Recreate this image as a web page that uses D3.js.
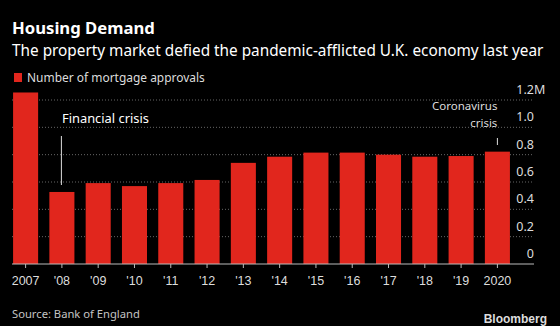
<!DOCTYPE html>
<html>
<head>
<meta charset="utf-8">
<script src="https://cdn.jsdelivr.net/npm/d3@7"></script>
<style>
  html, body { margin: 0; padding: 0; background: #000; }
  svg { display: block; font-family: "Noto Sans", "Open Sans", sans-serif; }
</style>
</head>
<body>
<svg id="chart" width="560" height="326"></svg>
<script>
// mortgage approvals, millions
var years = ['2007', '2008', '2009', '2010', '2011', '2012', '2013', '2014', '2015', '2016', '2017', '2018', '2019', '2020'];
var approvals = [1.255, 0.527, 0.592, 0.57, 0.592, 0.615, 0.74, 0.785, 0.815, 0.815, 0.80, 0.785, 0.79, 0.822];
var yTicks = [0, 0.2, 0.4, 0.6, 0.8, 1.0, 1.2];
var xLabels = ['2007', "'08", "'09", "'10", "'11", "'12", "'13", "'14", "'15", "'16", "'17", "'18", "'19", '2020'];

var red = '#e1261d';
var svg = d3.select('#chart');

var x = d3.scaleBand().domain(years).range([8, 515]).paddingInner(0.31).paddingOuter(0.14);
var y = d3.scaleLinear().domain([0, 1.2]).range([264, 100]);

// shrink / grow a text so it spans the wanted width
function fit(sel, w) {
  var size = parseFloat(sel.attr('font-size'));
  var len = sel.node().getComputedTextLength();
  sel.attr('font-size', size * w / len);
  return sel;
}

svg.append('rect').attr('width', 560).attr('height', 326).attr('fill', '#000');

// titles
fit(svg.append('text').attr('x', 12).attr('y', 34)
       .attr('fill', '#fff').attr('font-size', 17).attr('font-weight', 'bold')
       .text('Housing Demand'), 143);
fit(svg.append('text').attr('x', 12).attr('y', 55.5)
       .attr('fill', '#fff').attr('font-size', 15)
       .text('The property market defied the pandemic-afflicted U.K. economy last year'), 532);

// legend
svg.append('rect').attr('x', 14).attr('y', 73).attr('width', 8).attr('height', 9).attr('fill', red);
fit(svg.append('text').attr('x', 27).attr('y', 82)
       .attr('fill', '#ddd').attr('font-size', 12.5)
       .text('Number of mortgage approvals'), 178);

// grid
svg.append('g')
   .selectAll('line')
   .data(yTicks.slice(1))
   .enter()
   .append('line')
   .attr('x1', 12).attr('x2', 534)
   .attr('y1', function(d) { return y(d); })
   .attr('y2', function(d) { return y(d); })
   .attr('stroke', '#666')
   .attr('stroke-width', 1)
   .attr('stroke-dasharray', '1,2');

// y labels
var yl = svg.append('g').attr('font-size', 12.5).attr('fill', '#ddd');
yl.selectAll('text')
  .data(yTicks)
  .enter()
  .append('text')
  .attr('x', 534)
  .attr('y', function(d) { return y(d) - 6; })
  .attr('text-anchor', 'end')
  .text(function(d) { return d === 0 ? '0' : d3.format('.1f')(d); });
yl.append('text').attr('x', 534).attr('y', y(1.2) - 6).text('M');

// bars
svg.append('g')
   .selectAll('rect')
   .data(approvals)
   .enter()
   .append('rect')
   .attr('x', function(d, i) { return x(years[i]); })
   .attr('width', x.bandwidth())
   .attr('y', function(d) { return y(d); })
   .attr('height', function(d) { return y(0) - y(d); })
   .attr('fill', red);

// x axis
var xAxis = d3.axisBottom(x)
              .tickSize(4)
              .tickPadding(8)
              .tickFormat(function(d, i) { return xLabels[i]; });
var gx = svg.append('g')
            .attr('transform', 'translate(0,' + y(0) + ')')
            .call(xAxis);
gx.select('.domain').remove();
gx.selectAll('.tick line').attr('stroke', '#bbb');
gx.selectAll('.tick text').attr('fill', '#ddd').attr('font-size', 12.5).attr('font-family', null);
gx.append('line').attr('x1', 12).attr('x2', 534).attr('stroke', '#bbb');

// annotations
var ax08 = x('2008') + x.bandwidth() / 2;
fit(svg.append('text').attr('x', 62).attr('y', 122.5)
       .attr('fill', '#fff').attr('font-size', 13).text('Financial crisis'), 87);
svg.append('line').attr('x1', ax08 - 0.5).attr('x2', ax08 - 0.5)
   .attr('y1', 136).attr('y2', 185).attr('stroke', '#ddd');

var ax20 = x('2020') + x.bandwidth() / 2;
svg.append('text').attr('x', ax20).attr('y', 110).attr('text-anchor', 'end')
   .attr('fill', '#ddd').attr('font-size', 11.5).text('Coronavirus');
svg.append('text').attr('x', ax20).attr('y', 126.5).attr('text-anchor', 'end')
   .attr('fill', '#ddd').attr('font-size', 11.5).text('crisis');
svg.append('line').attr('x1', ax20).attr('x2', ax20)
   .attr('y1', 138).attr('y2', 145).attr('stroke', '#ddd');

// footer
fit(svg.append('text').attr('x', 12).attr('y', 318)
       .attr('fill', '#c4c4c4').attr('font-size', 12.5).text('Source: Bank of England'), 128);
svg.append('text').attr('x', 547).attr('y', 323).attr('text-anchor', 'end')
   .attr('fill', '#ddd').attr('font-size', 12).attr('font-weight', 'bold')
   .attr('font-family', 'Arial, "Liberation Sans", sans-serif')
   .text('Bloomberg');
</script>
</body>
</html>
